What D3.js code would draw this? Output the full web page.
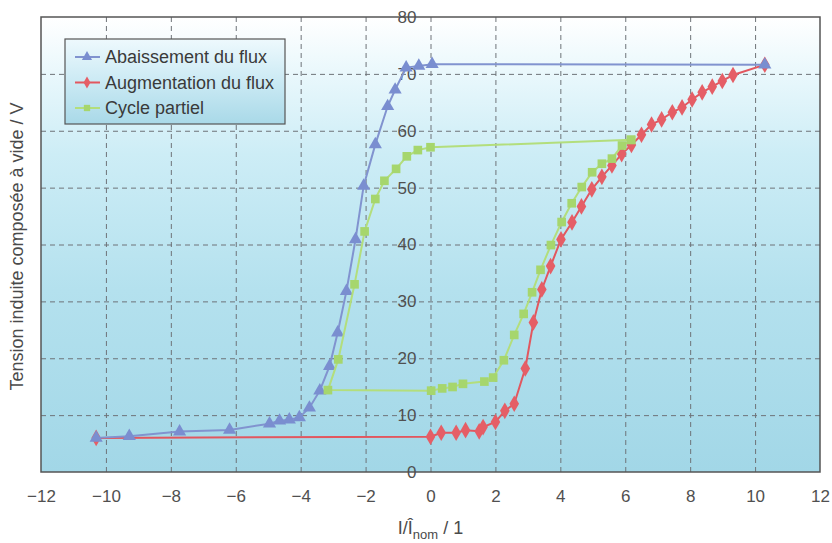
<!DOCTYPE html>
<html><head><meta charset="utf-8">
<script src="https://cdn.jsdelivr.net/npm/d3@7"></script>
<style>
body{margin:0;background:#fff;}
svg{display:block;font-family:"Liberation Sans",Arial,Helvetica,sans-serif;}
</style></head>
<body><svg id="c" width="832" height="543"></svg>
<script>
// Series: Abaissement du flux (blue triangles)
const abaissementX = [10.3, 0.05, -0.36, -0.75, -1.09, -1.32, -1.70, -2.06, -2.31, -2.59, -2.86, -3.11, -3.41, -3.73, -4.04, -4.35, -4.65, -4.96, -6.19, -7.73, -9.28, -10.3];
const abaissementY = [71.6, 71.7, 71.4, 71.1, 67.2, 64.3, 57.6, 50.3, 40.9, 31.8, 24.5, 18.6, 14.3, 11.3, 9.6, 9.2, 9.0, 8.5, 7.4, 7.1, 6.3, 6.0];
// Series: Augmentation du flux (red diamonds)
const augmentationX = [-10.3, 0, 0.33, 0.79, 1.08, 1.5, 1.62, 2.0, 2.29, 2.58, 2.92, 3.17, 3.43, 3.70, 4.02, 4.36, 4.65, 4.97, 5.28, 5.59, 5.89, 6.19, 6.5, 6.81, 7.12, 7.45, 7.75, 8.06, 8.37, 8.68, 8.99, 9.32, 10.3];
const augmentationY = [6.0, 6.2, 6.9, 6.9, 7.35, 7.15, 7.9, 8.8, 10.75, 12.0, 18.2, 26.3, 32.1, 36.2, 40.9, 43.9, 46.7, 49.7, 51.9, 53.9, 55.9, 57.5, 59.3, 61.1, 62.0, 63.25, 64.1, 65.5, 66.75, 67.75, 68.75, 69.8, 71.6];
// Series: Cycle partiel (green squares)
const cycleX = [6.18, 0, -0.39, -0.73, -1.06, -1.42, -1.70, -2.03, -2.34, -2.84, -3.16, 0.02, 0.36, 0.68, 1.0, 1.66, 1.93, 2.26, 2.58, 2.87, 3.13, 3.39, 3.71, 4.04, 4.35, 4.66, 4.98, 5.28, 5.59, 5.9, 6.18];
const cycleY = [58.4, 57.1, 56.6, 55.5, 53.3, 51.2, 48.0, 42.3, 33.0, 19.8, 14.4, 14.3, 14.7, 14.95, 15.5, 15.9, 16.6, 19.65, 24.1, 27.8, 31.6, 35.55, 39.9, 43.95, 47.25, 50.1, 52.7, 54.2, 55.1, 57.4, 58.4];

const xTicks = [-12, -10, -8, -6, -4, -2, 0, 2, 4, 6, 8, 10, 12];
const yTicks = [0, 10, 20, 30, 40, 50, 60, 70, 80];
const legendLabels = ["Abaissement du flux", "Augmentation du flux", "Cycle partiel"];

const W = 832, H = 543;
const m = {left: 41, right: 12, top: 17, bottom: 71};
const svg = d3.select("#c");
const x = d3.scaleLinear().domain([-12, 12]).range([m.left, W - m.right]);
const y = d3.scaleLinear().domain([0, 80]).range([H - m.bottom, m.top]);
const pw = x.range()[1] - x.range()[0], ph = y.range()[0] - y.range()[1];

const defs = svg.append("defs");
const bg = defs.append("linearGradient").attr("id", "bg").attr("x1", 0).attr("y1", 0).attr("x2", 0).attr("y2", 1);
[[0, "#ffffff"], [0.12, "#eaf8fc"], [0.3, "#cdedf6"], [0.6, "#b4e1ee"], [1, "#a2d7e7"]].forEach(s => bg.append("stop").attr("offset", s[0]).attr("stop-color", s[1]));
const lg = defs.append("linearGradient").attr("id", "lg").attr("x1", 0).attr("y1", 0).attr("x2", 0).attr("y2", 1);
[[0, "#eef9fd"], [0.5, "#cbeaf4"], [1, "#a9d9e8"]].forEach(s => lg.append("stop").attr("offset", s[0]).attr("stop-color", s[1]));

svg.append("rect").attr("x", x(-12)).attr("y", y(80)).attr("width", pw).attr("height", ph).attr("fill", "url(#bg)");

// grid
svg.append("g").attr("transform", `translate(0,${y(0)})`)
  .call(d3.axisBottom(x).tickValues(xTicks.filter(v => v > -12 && v < 12)).tickSize(-ph).tickFormat(""))
  .call(g => g.select(".domain").remove())
  .call(g => g.selectAll("line").attr("stroke", "#6e7378").attr("stroke-dasharray", "5,4").attr("stroke-width", 1));
svg.append("g").attr("transform", `translate(${x(-12)},0)`)
  .call(d3.axisLeft(y).tickValues(yTicks.filter(v => v > 0 && v < 80)).tickSize(-pw).tickFormat(""))
  .call(g => g.select(".domain").remove())
  .call(g => g.selectAll("line").attr("stroke", "#6e7378").attr("stroke-dasharray", "5,4").attr("stroke-width", 1));

svg.append("rect").attr("x", x(-12)).attr("y", y(80)).attr("width", pw).attr("height", ph).attr("fill", "none").attr("stroke", "#555").attr("stroke-width", 1.5);

const fmt = v => (v < 0 ? "\u2212" + Math.abs(v) : String(v));
// x tick labels
svg.append("g").attr("transform", `translate(0,${y(0)})`)
  .call(d3.axisBottom(x).tickValues(xTicks).tickSize(0).tickPadding(18).tickFormat(fmt))
  .call(g => g.select(".domain").remove())
  .call(g => g.selectAll("text").attr("font-size", 17).attr("fill", "#505050").attr("font-family", "Liberation Sans, Arial, sans-serif"));
// y tick labels on the x=0 line
svg.append("g").attr("transform", `translate(${x(0)},0)`)
  .call(d3.axisLeft(y).tickValues(yTicks).tickSize(0).tickPadding(14).tickFormat(fmt))
  .call(g => g.select(".domain").remove())
  .call(g => g.selectAll("text").attr("font-size", 17).attr("fill", "#505050").attr("font-family", "Liberation Sans, Arial, sans-serif"));

// axis titles
svg.append("text").attr("transform", `translate(23,${(y(0) + y(80)) / 2 + 2}) rotate(-90)`).attr("text-anchor", "middle")
  .attr("font-size", 18).attr("fill", "#4a4a4a").text("Tension induite composée à vide / V");
const xt = svg.append("text").attr("x", x(0)).attr("y", 534).attr("text-anchor", "middle").attr("font-size", 18).attr("fill", "#4a4a4a");
xt.append("tspan").text("I/Î");
xt.append("tspan").attr("dy", 5).attr("font-size", 13).text("nom");
xt.append("tspan").attr("dy", -5).text(" / 1");

const colors = {blue: "#8193cf", red: "#e2575f", green: "#b3de7c"};
const mcol = {blue: "#7a8ed0", red: "#e55e66", green: "#a6d66d"};
const line = d3.line().x(d => x(d[0])).y(d => y(d[1]));
const series = [
  {xs: augmentationX, ys: augmentationY, c: "red", sym: d3.symbolDiamond, size: 80},
  {xs: abaissementX, ys: abaissementY, c: "blue", sym: d3.symbolTriangle, size: 75},
  {xs: cycleX, ys: cycleY, c: "green", sym: d3.symbolSquare, size: 75}
];
series.forEach(s => {
  const pts = s.xs.map((v, i) => [v, s.ys[i]]);
  svg.append("path").attr("d", line(pts)).attr("fill", "none").attr("stroke", colors[s.c]).attr("stroke-width", 2);
  svg.append("g").selectAll("path").data(pts).join("path")
    .attr("transform", d => `translate(${x(d[0])},${y(d[1])})`)
    .attr("d", d3.symbol().type(s.sym).size(s.size)).attr("fill", mcol[s.c]);
});

// legend
const L = svg.append("g");
L.append("rect").attr("x", 65).attr("y", 39).attr("width", 220).attr("height", 85).attr("fill", "url(#lg)").attr("stroke", "#555").attr("stroke-width", 1.2);
const legSyms = [["blue", d3.symbolTriangle, 45], ["red", d3.symbolDiamond, 40], ["green", d3.symbolSquare, 40]];
legendLabels.forEach((t, i) => {
  const cy = 57 + i * 25.5;
  L.append("line").attr("x1", 75).attr("x2", 100).attr("y1", cy).attr("y2", cy).attr("stroke", colors[legSyms[i][0]]).attr("stroke-width", 2);
  L.append("path").attr("transform", `translate(87,${cy})`).attr("d", d3.symbol().type(legSyms[i][1]).size(legSyms[i][2])).attr("fill", mcol[legSyms[i][0]]);
  L.append("text").attr("x", 105).attr("y", cy).attr("dy", "0.35em").attr("font-size", 18).attr("fill", "#3a3a3a").text(t);
});
</script></body></html>
